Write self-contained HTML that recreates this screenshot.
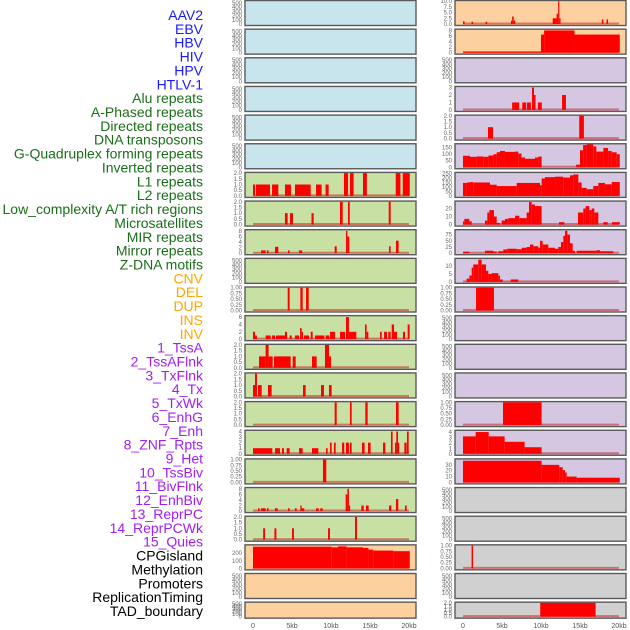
<!DOCTYPE html>
<html><head><meta charset="utf-8"><style>
html,body{margin:0;padding:0;background:#fff;}
svg{display:block;font-family:"Liberation Sans",sans-serif;}
</style></head><body>
<svg id="chart" width="630" height="630" viewBox="0 0 630 630"></svg>
<script>
// ---------- data ----------
const trackLabels=["AAV2","EBV","HBV","HIV","HPV","HTLV-1","Alu repeats","A-Phased repeats","Directed repeats","DNA transposons","G-Quadruplex forming repeats","Inverted repeats","L1 repeats","L2 repeats","Low_complexity A/T rich regions","Microsatellites","MIR repeats","Mirror repeats","Z-DNA motifs","CNV","DEL","DUP","INS","INV","1_TssA","2_TssAFlnk","3_TxFlnk","4_Tx","5_TxWk","6_EnhG","7_Enh","8_ZNF_Rpts","9_Het","10_TssBiv","11_BivFlnk","12_EnhBiv","13_ReprPC","14_ReprPCWk","15_Quies","CPGisland","Methylation","Promoters","ReplicationTiming","TAD_boundary"];
const labelGroups=[0,0,0,0,0,0,1,1,1,1,1,1,1,1,1,1,1,1,1,2,2,2,2,2,3,3,3,3,3,3,3,3,3,3,3,3,3,3,3,4,4,4,4,4];
const xTicks=[0,5,10,15,20];
const xTickLabels=["0","5kb","10kb","15kb","20kb"];

// left column bar tracks: starts (kb), ends (kb), values
const L6s=[0,0.38,2.44,4.1,5.38,8.08,9.3,11.66,12.43,14.1,18.3,19.2];
const L6e=[0.26,2.18,3.25,4.87,7.4,8.8,9.7,12.18,12.9,14.6,18.9,20.1];
const L6v=[1,1,1,1,1,1,1,2,2,2,2,2];
const L7s=[4.1,4.74,7.5,11.15,12.18,17.4];
const L7e=[4.44,5.13,7.78,11.5,12.4,17.65];
const L7v=[1,1,1,2,2,2];
const L8s=[1.03,1.79,2.82,4.49,5.9,10.47,11.92,12.1,17.44,18.33];
const L8e=[1.62,2.0,3.25,4.7,6.3,10.73,12.1,12.35,17.65,18.67];
const L8v=[1,1,2.3,1,1,2.5,8,6,2.5,4.5];
const L10s=[4.45,6.07,6.8];
const L10e=[4.7,6.37,7.14];
const L10v=[1,1,1];
const L11s=[0,0.26,1.62,2.44,2.95,4.1,4.7,5.38,6.03,6.24,6.54,7.4,7.95,9.32,9.87,11.15,11.92,12.3,14.36,14.57,16.28,16.8,17.35,17.78,18.08,19.23,19.83];
const L11e=[0.26,0.5,2.26,2.82,4.1,4.36,4.96,5.9,6.24,6.41,7.18,7.65,9.15,9.79,10.51,11.8,12.3,13.25,14.57,14.79,16.5,17.18,17.65,18.08,18.46,19.49,20.08];
const L11v=[2,1,1,1,1,2,1,1,3,2,1,2,1,1,2,2,6,2,4,2,2,2,2,4,2,2,4];
const L12s=[0.77,1.62,2.0,2.69,5.09,7.56,9.23,9.74];
const L12e=[1.62,2.0,2.52,4.83,5.47,8.16,9.74,10.0];
const L12v=[1,2,1,1,1,1,2,1];
const L13s=[0.0,0.26,0.64,1.92,6.41,8.72,9.74];
const L13e=[0.38,0.51,1.11,2.39,6.75,9.1,10.08];
const L13v=[1,2,1,1,1,1,1];
const L14s=[10.47,12.43,14.4,18.33];
const L14e=[10.73,12.65,14.7,18.67];
const L14v=[2,2,2,2];
const L15s=[0,2.82,3.72,4.32,5.9,7.56,9.36,9.87,10.38,11.41,11.92,12.43,13.97,14.74,16.67,17.69,18.2,18.37,18.59,19.4,19.74];
const L15e=[2.48,3.46,3.97,4.7,6.37,8.38,9.57,10.08,10.6,11.7,12.3,12.65,14.31,15.08,16.97,17.9,18.37,18.59,18.72,19.7,19.96];
const L15v=[1,1,1,1,1,1,1,2,2,2,2,2,2,2,2,4,2,4,2,2,4];
const L16s=[8.97];
const L16e=[9.4];
const L16v=[1];
const L17s=[0.64,1.03,1.79,2.82,4.49,5.38,6.07,6.24,8.08,8.63,11.88,12.1,12.3,13.89,14.49,17.44,18.33,19.49];
const L17e=[0.85,1.62,2.0,3.16,4.7,5.6,6.24,6.58,8.42,8.93,12.1,12.3,12.43,14.19,14.83,17.74,18.63,19.7];
const L17v=[1,1,1,1,1,1,2,1,1,1,6,8,2,2,2,2,4.3,2];
const L18s=[1.3,2.75,5.0,9.62,13.08];
const L18e=[1.55,3.0,5.25,9.87,13.33];
const L18v=[1,1,1,1,2.2];
const L19edges=[0,10.1,10.9,12.0,14.1,14.8,15.4,18.0,20.1];
const L19v=[285,277,289,277,270,247,234,226];

// right column tracks
const R0s=[0,1.1,2.9,6.15,6.3,6.5,11.5,12.0,12.2,12.35,17.8,18.4];
const R0e=[0.2,1.3,3.1,6.3,6.5,6.7,12.0,12.2,12.35,12.5,18.0,18.6];
const R0v=[1.2,1.0,1.0,1.5,3.3,1.5,2.5,4.5,10,2.5,2,2];
const R1s=[0,10,10.4,14.3];
const R1e=[10,10.4,14.3,20.1];
const R1v=[0.3,6.5,8,6.5];
const R3s=[6.3,7.6,8.2,8.85,9.1,9.6,12.7];
const R3e=[7.2,8.1,8.7,9.1,9.3,10.1,13.2];
const R3v=[1,1,1,3,2,1,2];
const R4s=[3.2,14.9];
const R4e=[3.85,15.5];
const R4v=[1,2];
const R5edges=[0,0.9,1.75,2.6,3.25,3.9,4.32,4.74,5.38,6.67,7.09,7.5,7.95,9.23,9.66,10.08,14.5,15,15.4,15.85,16.7,17.1,18,18.6,19.06,19.7,20.1];
const R5v=[88,80,83,80,90,100,115,125,118,120,105,75,65,75,82,0,20,130,170,178,160,120,148,125,115,100];
const R6edges=[0,0.47,0.9,1.32,3.46,4.32,6.88,9.87,10.08,10.51,11.8,12.86,13.72,14.15,14.79,15.21,15.85,16.7,17.35,18.2,19.06,20.1];
const R6v=[145,150,155,150,125,110,145,120,195,210,215,205,230,240,150,90,75,110,145,130,155];
const R7edges=[0,0.17,0.81,1.11,2.82,3.12,3.38,3.97,4.32,4.74,4.96,5.38,5.81,6.67,7.22,8.16,8.46,8.8,9.23,10.08,12.31,12.99,14.74,15.42,15.72,16.2,16.5,16.84,17.35,17.99,18.55,19.1,20.1];
const R7v=[4,7,4,0,5,15,18,10,2,0,5,7,8,11,8,15,28,25,23,0,3,0,15,20,23,18,20,15,0,3,0,3];
const R8edges=[0,0.81,2.82,3.88,4.32,4.53,5.17,5.68,6.88,7.52,8.16,8.59,9.02,9.66,9.87,10.21,10.94,11.8,12.22,12.56,12.86,13.08,13.38,13.72,14.06,14.36,14.57,17.14,17.56,19.27];
const R8v=[6,0,10,7,0,8,15,18,16,22,25,35,28,22,50,35,22,18,25,45,70,90,75,40,10,0,10,12,8];
const R9edges=[0.47,0.81,1.11,1.32,1.96,2.39,2.95,3.25,3.67,4.53,4.74,5.09,6.11,7.09];
const R9v=[2,4,9,11,14,11,7,5,5.5,4,1.5,0,1.5];
const R10s=[1.67];
const R10e=[3.97];
const R10v=[1];
const R14s=[5.13];
const R14e=[10.08];
const R14v=[1];
const R15edges=[0,1.62,3.29,5.34,7.9,10.08];
const R15v=[3.2,4,3.2,2.2,1.2];
const R16edges=[0,10.08,12.35,12.78,13.08,13.29,14.57,20.1];
const R16v=[37,30,26,21,17,10,8];
const R19s=[1.1];
const R19e=[1.3];
const R19v=[1];
const R21s=[9.9];
const R21e=[17.0];
const R21v=[2];

// tick label sets
const tEmpty=["0","100","200","300","400","500"];
const t2=["0.0","0.5","1.0","1.5","2.0"];
const t1=["0.00","0.25","0.50","0.75","1.00"];
const t8=["0","2","4","6","8"];
const t6=["0","2","4","6"];
const t4=["0","1","2","3","4"];
const t3=["0","1","2","3"];
const t10=["0.0","2.5","5.0","7.5","10.0"];
const tR5=["0","50","100","150"];
const tR6=["0","50","100","150","200","250"];
const tR7=["0","10","20"];
const tR8=["0","25","50","75"];
const tR9=["0","5","10"];
const tR16=["0","10","20","30"];
const tCPG=["0","100","200"];

// ---------- drawing ----------
const NS="http://www.w3.org/2000/svg";
const svg=document.getElementById('chart');
function mk(tag,attrs,parent){const e=document.createElementNS(NS,tag);for(const k in attrs)e.setAttribute(k,attrs[k]);(parent||svg).appendChild(e);return e;}
const BG={b:"#c8e4ec",g:"#c8e0a4",o:"#fdd09f",p:"#d5c6e2",y:"#d0d0d0"};
const colX=[245,455];
const PW=171;
const labelColors=["#1a1aff","#1a6e1a","#ffa500","#a020f0","#000000"];

function rowTop(i){return 0.5+i*28.65;}
function rowH(i){return i===21?16:25;}
function fromEdges(edges,vals){const s=[],e=[];for(let i=0;i<vals.length;i++){s.push(edges[i]);e.push(edges[i+1]);}return [s,e,vals];}

function panel(col,row,bg,name,ymax,ticks,s,e,v){
  const x0=colX[col],top=rowTop(row),h=rowH(row);
  const g=mk('g',{});
  
  
  const r=mk('rect',{x:x0,y:top,width:PW,height:h,fill:BG[bg],stroke:'#5a5a5a','stroke-width':1.4},g);
  
  
  const base=top+h-1.5,ptop=top+0.7;
  const yS=val=>base-val/ymax*(base-ptop);
  const xS=kb=>x0+8+kb*7.8;
  // ticks
  ticks.forEach(t=>{
    const tv=parseFloat(t);
    const tx=mk('text',{x:x0-3,y:yS(tv)+2,'font-size':6,fill:'#666','text-anchor':'end'},g);
    tx.textContent=t;
    
    
  });
  if(s){
    const bl=mk('line',{x1:xS(0),x2:xS(20),y1:base-0.5,y2:base-0.5,stroke:'rgba(200,0,0,0.45)','stroke-width':2},g);
    
    
    for(let i=0;i<s.length;i++){
      if(v[i]<=0)continue;
      const yt=Math.max(yS(v[i]),ptop);
      const b=mk('rect',{x:xS(s[i]),y:yt,width:Math.max(xS(e[i])-xS(s[i]),1.2),height:base-yt,fill:'#ff0000'},g);
      
      
    }
  }
}

// labels
trackLabels.forEach((t,i)=>{
  const tx=mk('text',{x:203,y:15+i*13.86+5,'font-size':14,fill:labelColors[labelGroups[i]],'text-anchor':'end'});
  tx.textContent=t;
  
  
});

// left column
for(let r=0;r<6;r++)panel(0,r,'b','left-row'+r,540,tEmpty);
panel(0,6,'g','left-row6',2,t2,L6s,L6e,L6v);
panel(0,7,'g','left-row7',2,t2,L7s,L7e,L7v);
panel(0,8,'g','left-row8',8.2,t8,L8s,L8e,L8v);
panel(0,9,'g','left-row9',540,tEmpty);
panel(0,10,'g','left-row10',1,t1,L10s,L10e,L10v);
panel(0,11,'g','left-row11',6.2,t6,L11s,L11e,L11v);
panel(0,12,'g','left-row12',2,t2,L12s,L12e,L12v);
panel(0,13,'g','left-row13',2,t2,L13s,L13e,L13v);
panel(0,14,'g','left-row14',2,t2,L14s,L14e,L14v);
panel(0,15,'g','left-row15',4.1,t4,L15s,L15e,L15v);
panel(0,16,'g','left-row16',1,t1,L16s,L16e,L16v);
panel(0,17,'g','left-row17',8.2,t8,L17s,L17e,L17v);
panel(0,18,'g','left-row18',2,t2,L18s,L18e,L18v);
{const d=fromEdges(L19edges,L19v);panel(0,19,'o','left-row19',300,tCPG,d[0],d[1],d[2]);}
panel(0,20,'o','left-row20',540,tEmpty);
panel(0,21,'o','left-row21',540,tEmpty);

// right column
panel(1,0,'o','right-row0',10,t10,R0s,R0e,R0v);
panel(1,1,'o','right-row1',8.2,t8,R1s,R1e,R1v);
panel(1,2,'p','right-row2',540,tEmpty);
panel(1,3,'p','right-row3',3.05,t3,R3s,R3e,R3v);
panel(1,4,'p','right-row4',2,t2,R4s,R4e,R4v);
{const d=fromEdges(R5edges,R5v);panel(1,5,'p','right-row5',175,tR5,d[0],d[1],d[2]);}
{const d=fromEdges(R6edges,R6v);panel(1,6,'p','right-row6',255,tR6,d[0],d[1],d[2]);}
{const d=fromEdges(R7edges,R7v);panel(1,7,'p','right-row7',28.4,tR7,d[0],d[1],d[2]);}
{const d=fromEdges(R8edges,R8v);panel(1,8,'p','right-row8',92,tR8,d[0],d[1],d[2]);}
{const d=fromEdges(R9edges,R9v);panel(1,9,'p','right-row9',14.4,tR9,d[0],d[1],d[2]);}
panel(1,10,'p','right-row10',1,t1,R10s,R10e,R10v);
panel(1,11,'p','right-row11',540,tEmpty);
panel(1,12,'p','right-row12',540,tEmpty);
panel(1,13,'p','right-row13',540,tEmpty);
panel(1,14,'p','right-row14',1,t1,R14s,R14e,R14v);
{const d=fromEdges(R15edges,R15v);panel(1,15,'p','right-row15',4.2,t4,d[0],d[1],d[2]);}
{const d=fromEdges(R16edges,R16v);panel(1,16,'p','right-row16',39,tR16,d[0],d[1],d[2]);}
panel(1,17,'y','right-row17',540,tEmpty);
panel(1,18,'y','right-row18',540,tEmpty);
panel(1,19,'y','right-row19',1,t1,R19s,R19e,R19v);
panel(1,20,'y','right-row20',540,tEmpty);
panel(1,21,'y','right-row21',2,t2,R21s,R21e,R21v);

// x-axis labels
[0,1].forEach(c=>{
  xTicks.forEach((k,i)=>{
    const tx=mk('text',{x:colX[c]+8+k*7.8,y:628,'font-size':7,fill:'#555','text-anchor':'middle'});
    tx.textContent=xTickLabels[i];
    
    
  });
});
</script>
</body></html>
